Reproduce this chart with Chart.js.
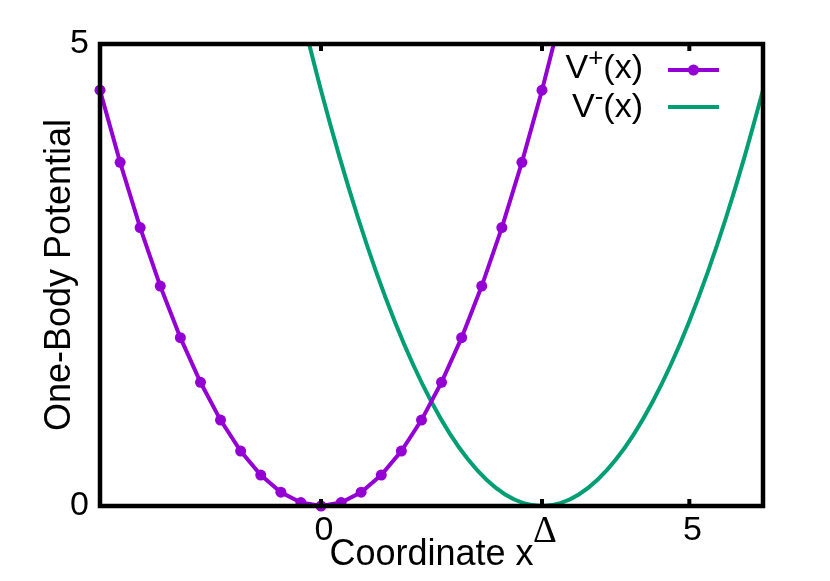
<!DOCTYPE html>
<html>
<head>
<meta charset="utf-8">
<script src="https://cdn.jsdelivr.net/npm/chart.js@4.4.1/dist/chart.umd.min.js"></script>
<style>
  html, body { margin: 0; padding: 0; background: #fff; }
  #wrap { width: 830px; height: 581px; }
</style>
</head>
<body>
<div id="wrap"><canvas id="myChart" width="830" height="581"></canvas></div>
<script>
// V+(x) samples (gnuplot linespoints)
var plusX = [-3, -2.727, -2.455, -2.182, -1.909, -1.636, -1.364, -1.091, -0.818, -0.545, -0.273, 0,
  0.273, 0.545, 0.818, 1.091, 1.364, 1.636, 1.909, 2.182, 2.455, 2.727, 3, 3.273];
var plusY = [4.5, 3.719, 3.013, 2.380, 1.822, 1.339, 0.930, 0.595, 0.335, 0.149, 0.037, 0,
  0.037, 0.149, 0.335, 0.595, 0.930, 1.339, 1.822, 2.380, 3.013, 3.719, 4.5, 5.355];

// V-(x) samples (smooth line)
var minusX = [-0.25, 0, 0.25, 0.5, 0.75, 1, 1.25, 1.5, 1.75, 2, 2.25, 2.5, 2.75, 3,
  3.25, 3.5, 3.75, 4, 4.25, 4.5, 4.75, 5, 5.25, 5.5, 5.75, 6];
var minusY = [5.281, 4.5, 3.781, 3.125, 2.531, 2, 1.531, 1.125, 0.781, 0.5, 0.281, 0.125, 0.031, 0,
  0.031, 0.125, 0.281, 0.5, 0.781, 1.125, 1.531, 2, 2.531, 3.125, 3.781, 4.5];

var xTicks = [0, 3, 5];
var xTickLabels = ["0", "\u0394", "5"];
var yTicks = [0, 5];

var purple = "#9400d3";
var green = "#009e73";
var fontFamily = "'Liberation Sans', Arial, sans-serif";

function toPoints(xs, ys) {
  var pts = [];
  for (var i = 0; i < xs.length; i++) {
    pts.push({x: xs[i], y: ys[i]});
  }
  return pts;
}

// frame, inner tick marks and gnuplot style legend
var gnuplotFrame = {
  id: "gnuplotFrame",
  afterDatasetsDraw: function (chart) {
    var ctx = chart.ctx;
    var a = chart.chartArea;
    var xs = chart.scales.x;
    ctx.save();
    ctx.strokeStyle = "#000";
    ctx.lineWidth = 4.5;
    ctx.strokeRect(a.left, a.top, a.right - a.left, a.bottom - a.top);
    ctx.lineWidth = 4;
    ctx.beginPath();
    for (var i = 0; i < xTicks.length; i++) {
      var px = xs.getPixelForValue(xTicks[i]);
      ctx.moveTo(px, a.bottom);
      ctx.lineTo(px, a.bottom - 7);
      ctx.moveTo(px, a.top);
      ctx.lineTo(px, a.top + 7);
    }
    ctx.stroke();

    // legend
    var entries = [
      {sup: "+", color: purple, point: true, y: 78, line: 70},
      {sup: "-", color: green, point: false, y: 117, line: 107}
    ];
    var textRight = 643;
    ctx.fillStyle = "#000";
    ctx.textBaseline = "alphabetic";
    ctx.textAlign = "left";
    entries.forEach(function (e) {
      ctx.font = "34px " + fontFamily;
      var wV = ctx.measureText("V").width;
      var wX = ctx.measureText("(x)").width;
      ctx.font = "26px " + fontFamily;
      var wS = ctx.measureText(e.sup).width;
      var x0 = textRight - wX - wS - wV;
      ctx.font = "34px " + fontFamily;
      ctx.fillText("V", x0, e.y);
      ctx.font = "26px " + fontFamily;
      ctx.fillText(e.sup, x0 + wV, e.y - 12);
      ctx.font = "34px " + fontFamily;
      ctx.fillText("(x)", x0 + wV + wS, e.y);

      ctx.strokeStyle = e.color;
      ctx.lineWidth = 4;
      ctx.beginPath();
      ctx.moveTo(668, e.line);
      ctx.lineTo(719, e.line);
      ctx.stroke();
      if (e.point) {
        ctx.fillStyle = e.color;
        ctx.beginPath();
        ctx.arc(693.5, e.line, 5.5, 0, Math.PI * 2);
        ctx.fill();
        ctx.fillStyle = "#000";
      }
    });
    ctx.restore();
  }
};

var ctx = document.getElementById("myChart").getContext("2d");
var myChart = new Chart(ctx, {
  type: "line",
  data: {
    datasets: [{
      label: "V+(x)",
      data: toPoints(plusX, plusY),
      borderColor: purple,
      backgroundColor: purple,
      borderWidth: 4,
      pointRadius: 5.5,
      pointHoverRadius: 5.5,
      pointBorderWidth: 0,
      tension: 0,
      clip: {left: 8, top: 0, right: 0, bottom: 8}
    }, {
      label: "V-(x)",
      data: toPoints(minusX, minusY),
      borderColor: green,
      backgroundColor: green,
      borderWidth: 4,
      pointRadius: 0,
      cubicInterpolationMode: "monotone",
      clip: {left: 0, top: 0, right: 0, bottom: 3}
    }]
  },
  options: {
    responsive: false,
    animation: false,
    events: [],
    layout: {padding: {left: 38, right: 67, top: 44, bottom: 0}},
    plugins: {legend: {display: false}, tooltip: {enabled: false}},
    scales: {
      x: {
        type: "linear",
        min: -3,
        max: 6,
        grid: {display: false, drawTicks: false},
        border: {display: false},
        afterBuildTicks: function (scale) {
          scale.ticks = xTicks.map(function (v) { return {value: v}; });
        },
        afterFit: function (scale) { scale.height = 75; },
        ticks: {
          color: "#000",
          padding: 4,
          labelOffset: 3,
          maxRotation: 0,
          font: function (c) {
            if (c.index === 1) {
              return {family: "'Liberation Serif', 'Times New Roman', serif", size: 37};
            }
            return {family: fontFamily, size: 34};
          },
          callback: function (v) {
            var i = xTicks.indexOf(v);
            return i >= 0 ? xTickLabels[i] : "";
          }
        },
        title: {
          display: true,
          text: "Coordinate x",
          color: "#000",
          font: {family: fontFamily, size: 36},
          padding: {top: 0, bottom: 4}
        }
      },
      y: {
        type: "linear",
        min: 0,
        max: 5,
        grid: {display: false, drawTicks: false},
        border: {display: false},
        afterBuildTicks: function (scale) {
          scale.ticks = yTicks.map(function (v) { return {value: v}; });
        },
        afterFit: function (scale) { scale.width = 62; },
        ticks: {
          color: "#000",
          padding: 11,
          font: {family: fontFamily, size: 34}
        },
        title: {
          display: true,
          text: "One-Body Potential",
          color: "#000",
          font: {family: fontFamily, size: 36},
          padding: {top: 0, bottom: 0}
        }
      }
    }
  },
  plugins: [gnuplotFrame]
});
</script>
</body>
</html>
